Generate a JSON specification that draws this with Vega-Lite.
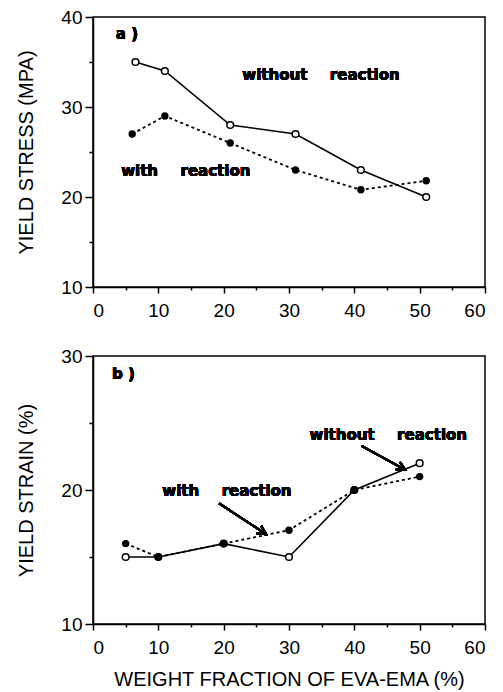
{
  "$schema": "https://vega.github.io/schema/vega-lite/v6.json",
  "padding": {"left": 16, "top": 7, "right": 5, "bottom": 5},
  "spacing": 25,
  "config": {
    "view": {"stroke": "black", "strokeWidth": 1.5},
    "axis": {
      "grid": false,
      "domainColor": "black", "domainWidth": 1.5,
      "tickColor": "black", "tickWidth": 1.5,
      "labelColor": "black", "titleColor": "black",
      "labelFont": "Liberation Sans", "titleFont": "Liberation Sans",
      "labelFontSize": 19, "titleFontSize": 20, "titleFontWeight": "normal"
    },
    "text": {"font": "DejaVu Sans", "fontWeight": "bold", "fontSize": 15, "color": "black"}
  },
  "datasets": {
    "stress": [
      {"series": "without reaction", "fraction": 6.5, "value": 35},
      {"series": "without reaction", "fraction": 11, "value": 34},
      {"series": "without reaction", "fraction": 21, "value": 28},
      {"series": "without reaction", "fraction": 31, "value": 27},
      {"series": "without reaction", "fraction": 41, "value": 23},
      {"series": "without reaction", "fraction": 51, "value": 20},
      {"series": "with reaction", "fraction": 6, "value": 27},
      {"series": "with reaction", "fraction": 11, "value": 29},
      {"series": "with reaction", "fraction": 21, "value": 26},
      {"series": "with reaction", "fraction": 31, "value": 23},
      {"series": "with reaction", "fraction": 41, "value": 20.8},
      {"series": "with reaction", "fraction": 51, "value": 21.8}
    ],
    "strain": [
      {"series": "without reaction", "fraction": 5, "value": 15},
      {"series": "without reaction", "fraction": 10, "value": 15},
      {"series": "without reaction", "fraction": 20, "value": 16},
      {"series": "without reaction", "fraction": 30, "value": 15},
      {"series": "without reaction", "fraction": 40, "value": 20},
      {"series": "without reaction", "fraction": 50, "value": 22},
      {"series": "with reaction", "fraction": 5, "value": 16},
      {"series": "with reaction", "fraction": 10, "value": 15},
      {"series": "with reaction", "fraction": 20, "value": 16},
      {"series": "with reaction", "fraction": 30, "value": 17},
      {"series": "with reaction", "fraction": 40, "value": 20},
      {"series": "with reaction", "fraction": 50, "value": 21}
    ]
  },
  "vconcat": [
    {
      "width": 392, "height": 270,
      "data": {"name": "stress"},
      "encoding": {
        "x": {"field": "fraction", "type": "quantitative",
          "scale": {"domain": [0, 60], "nice": false},
          "axis": {"values": [0,5,10,15,20,25,30,35,40,45,50,55,60],
            "labelExpr": "datum.value % 10 === 0 ? datum.label : ''",
            "tickSize": {"condition": {"test": "datum.value % 10 === 0", "value": 6}, "value": 3},
            "labelPadding": 8, "title": null}},
        "y": {"field": "value", "type": "quantitative",
          "scale": {"domain": [10, 40], "nice": false, "zero": false},
          "axis": {"values": [10,15,20,25,30,35,40],
            "labelExpr": "datum.value % 10 === 0 ? datum.label : ''",
            "tickSize": {"condition": {"test": "datum.value % 10 === 0", "value": 8}, "value": 4},
            "labelPadding": 3, "titlePadding": 24, "title": "YIELD STRESS (MPA)"}}
      },
      "layer": [
        {"transform": [{"filter": "datum.series === 'without reaction'"}],
         "mark": {"type": "line", "color": "black", "strokeWidth": 1.6}},
        {"transform": [{"filter": "datum.series === 'with reaction'"}],
         "mark": {"type": "line", "color": "black", "strokeWidth": 1.8, "strokeDash": [3, 3]}},
        {"transform": [{"filter": "datum.series === 'without reaction'"}],
         "mark": {"type": "point", "shape": "circle", "filled": true, "fill": "white", "stroke": "black", "strokeWidth": 1.5, "size": 45, "opacity": 1}},
        {"transform": [{"filter": "datum.series === 'with reaction'"}],
         "mark": {"type": "point", "shape": "circle", "filled": true, "color": "black", "size": 55, "opacity": 1}},
        {"mark": {"type": "text", "text": "a )", "align": "left", "baseline": "middle"},
         "encoding": {"x": {"datum": 3.5}, "y": {"datum": 38.1}}},
        {"mark": {"type": "text", "text": "without\u2003\u2002reaction", "align": "center", "baseline": "middle"},
         "encoding": {"x": {"datum": 34.9}, "y": {"datum": 33.6}}},
        {"mark": {"type": "text", "text": "with\u2003\u2002reaction", "align": "center", "baseline": "middle"},
         "encoding": {"x": {"datum": 14.2}, "y": {"datum": 22.9}}}
      ]
    },
    {
      "width": 392, "height": 268,
      "data": {"name": "strain"},
      "encoding": {
        "x": {"field": "fraction", "type": "quantitative",
          "scale": {"domain": [0, 60], "nice": false},
          "axis": {"values": [0,5,10,15,20,25,30,35,40,45,50,55,60],
            "labelExpr": "datum.value % 10 === 0 ? datum.label : ''",
            "tickSize": {"condition": {"test": "datum.value % 10 === 0", "value": 6}, "value": 3},
            "labelPadding": 8, "titlePadding": 12, "title": "WEIGHT FRACTION OF EVA-EMA (%)"}},
        "y": {"field": "value", "type": "quantitative",
          "scale": {"domain": [10, 30], "nice": false, "zero": false},
          "axis": {"values": [10,15,20,25,30],
            "labelExpr": "datum.value % 10 === 0 ? datum.label : ''",
            "tickSize": {"condition": {"test": "datum.value % 10 === 0", "value": 8}, "value": 4},
            "labelPadding": 3, "titlePadding": 24, "title": "YIELD STRAIN (%)"}}
      },
      "layer": [
        {"transform": [{"filter": "datum.series === 'without reaction'"}],
         "mark": {"type": "line", "color": "black", "strokeWidth": 1.6}},
        {"transform": [{"filter": "datum.series === 'with reaction'"}],
         "mark": {"type": "line", "color": "black", "strokeWidth": 1.8, "strokeDash": [3, 3]}},
        {"transform": [{"filter": "datum.series === 'without reaction'"}],
         "mark": {"type": "point", "shape": "circle", "filled": true, "fill": "white", "stroke": "black", "strokeWidth": 1.5, "size": 45, "opacity": 1}},
        {"transform": [{"filter": "datum.series === 'with reaction'"}],
         "mark": {"type": "point", "shape": "circle", "filled": true, "color": "black", "size": 55, "opacity": 1}},
        {"mark": {"type": "text", "text": "b )", "align": "left", "baseline": "middle"},
         "encoding": {"x": {"datum": 2.9}, "y": {"datum": 28.66}}},
        {"mark": {"type": "text", "text": "without\u2003\u2002reaction", "align": "center", "baseline": "middle"},
         "encoding": {"x": {"datum": 45.2}, "y": {"datum": 24.1}}},
        {"mark": {"type": "text", "text": "with\u2003\u2002reaction", "align": "center", "baseline": "middle"},
         "encoding": {"x": {"datum": 20.5}, "y": {"datum": 19.9}}},
        {"mark": {"type": "rule", "color": "black", "strokeWidth": 2},
         "encoding": {"x": {"datum": 19.3}, "y": {"datum": 19.0}, "x2": {"datum": 26.5}, "y2": {"datum": 16.7}}},
        {"mark": {"type": "rule", "color": "black", "strokeWidth": 2},
         "encoding": {"x": {"datum": 41.1}, "y": {"datum": 23.3}, "x2": {"datum": 47.8}, "y2": {"datum": 21.5}}},
        {"mark": {"type": "point", "shape": "M-1,-0.5L0,0L-1,0.5", "filled": false, "stroke": "black", "strokeWidth": 2, "size": 300, "angle": 33, "opacity": 1},
         "encoding": {"x": {"datum": 26.5}, "y": {"datum": 16.7}}},
        {"mark": {"type": "point", "shape": "M-1,-0.5L0,0L-1,0.5", "filled": false, "stroke": "black", "strokeWidth": 2, "size": 300, "angle": 29, "opacity": 1},
         "encoding": {"x": {"datum": 47.8}, "y": {"datum": 21.5}}}
      ]
    }
  ]
}
